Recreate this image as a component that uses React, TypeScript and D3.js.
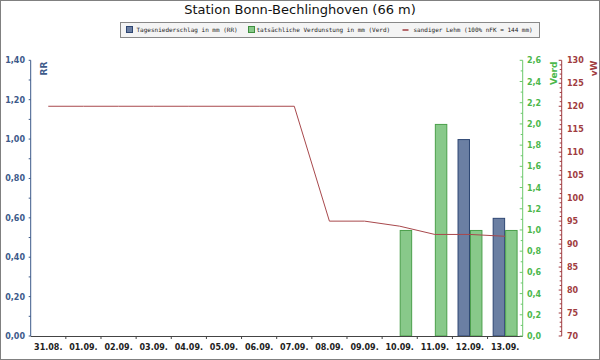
import React from "react";
import * as d3 from "d3";

const days = ["31.08.", "01.09.", "02.09.", "03.09.", "04.09.", "05.09.", "06.09.", "07.09.", "08.09.", "09.09.", "10.09.", "11.09.", "12.09.", "13.09."];
const rr = [0, 0, 0, 0, 0, 0, 0, 0, 0, 0, 0, 0, 1.0, 0.6];
const verd = [0, 0, 0, 0, 0, 0, 0, 0, 0, 0, 1.0, 2.0, 1.0, 1.0];
const vw = [120, 120, 120, 120, 120, 120, 120, 120, 95.0, 95.0, 93.9, 92.1, 92.1, 91.7];
const rrTicks = [0, 0.2, 0.4, 0.6, 0.8, 1.0, 1.2, 1.4];
const verdTicks = [0, 0.2, 0.4, 0.6, 0.8, 1.0, 1.2, 1.4, 1.6, 1.8, 2.0, 2.2, 2.4, 2.6];
const vwTicks = [70, 75, 80, 85, 90, 95, 100, 105, 110, 115, 120, 125, 130];

const W = 600, H = 360;
const left = 30.7, right = 522.7, top = 60.3, bottom = 336;
const axV = 522.7, axW = 561.7;

const cBlue = "#3d5a8a", cGreen = "#4cb84c", cRed = "#a03c40";
const fmt = (v: number, d: number) => v.toFixed(d).replace(".", ",");

export default function App() {
  React.useEffect(() => { document.body.style.margin = "0"; }, []);
  const x = d3.scaleBand<string>().domain(days).range([left, right]).padding(0);
  const sub = d3.scaleBand<string>().domain(["rr", "verd"]).range([0, x.bandwidth()]).paddingInner(0).paddingOuter(0.41);
  const yR = d3.scaleLinear().domain([0, 1.4]).range([bottom, top]);
  const yV = d3.scaleLinear().domain([0, 2.6]).range([bottom, top]);
  const yW = d3.scaleLinear().domain([70, 130]).range([bottom, top]);
  const line = d3.line<number>().x((_, i) => (x(days[i]) as number) + x.bandwidth() / 2).y(d => yW(d));
  const rrMinor = d3.range(0, 1.4001, 0.1);
  const vMinor = d3.range(0, 2.6001, 0.1);
  const wMinor = d3.range(70, 130.001, 1);
  const lbl = { fontFamily: "DejaVu Sans", fontSize: 8, fontWeight: "bold" } as const;
  const leg = { fontFamily: "DejaVu Sans Mono", fontSize: 6, fill: "#222" } as const;
  return (
    <svg width={W} height={H} style={{ display: "block" }}>
      <rect x={0.5} y={0.5} width={W - 1} height={H - 1} fill="#fff" stroke="#808080" />
      <text x={300} y={13.5} textAnchor="middle" fontFamily="DejaVu Sans" fontSize={13} fill="#111">Station Bonn-Bechlinghoven (66 m)</text>
      {/* legend */}
      <rect x={120.5} y={22.5} width={419} height={15} fill="#f4f4f4" stroke="#888" />
      <rect x={126.5} y={26.5} width={6} height={6} fill="#6b7fa3" stroke="#2e4673" />
      <text x={136.5} y={32} {...leg}>Tagesniederschlag in mm (RR)</text>
      <rect x={248.5} y={26.5} width={6} height={6} fill="#88c98a" stroke="#3f8f3f" />
      <text x={256.5} y={32} {...leg}>tatsächliche Verdunstung in mm (Verd)</text>
      <line x1={402.5} x2={408.5} y1={30} y2={30} stroke={cRed} strokeWidth={1.5} />
      <text x={413.5} y={32} {...leg}>sandiger Lehm (100% nFK = 144 mm)</text>

      {/* bars */}
      {days.map((d, i) => (
        <g key={d}>
          {rr[i] > 0 && <rect x={(x(d) as number) + (sub("rr") as number) + 0.5} y={yR(rr[i]) + 0.5} width={sub.bandwidth() - 1} height={bottom - yR(rr[i]) - 0.5} fill="#6b7fa3" stroke="#2e4673" />}
          {verd[i] > 0 && <rect x={(x(d) as number) + (sub("verd") as number) + 0.5} y={yV(verd[i]) + 0.5} width={sub.bandwidth() - 1} height={bottom - yV(verd[i]) - 0.5} fill="#88c98a" stroke="#4a9f4a" />}
        </g>
      ))}
      <path d={line(vw) || ""} fill="none" stroke="#a8484c" strokeWidth={1} />

      {/* left axis */}
      <line x1={left} x2={left} y1={top} y2={bottom} stroke={cBlue} />
      {rrMinor.map(v => <line key={"rm" + v} x1={left - 2} x2={left} y1={yR(v)} y2={yR(v)} stroke={cBlue} />)}
      {rrTicks.map(v => (
        <text key={"rt" + v} x={25} y={yR(v) + 3} textAnchor="end" {...lbl} fill={cBlue}>{fmt(v, 2)}</text>
      ))}
      <text transform={`translate(47,61.5) rotate(-90)`} textAnchor="end" fontFamily="DejaVu Sans" fontSize={9} fontWeight="bold" fill={cBlue}>RR</text>

      {/* x axis */}
      <line x1={left} x2={right} y1={bottom + 0.5} y2={bottom + 0.5} stroke="#444" />
      {days.map((d, i) => i > 0 ? <line key={"xt" + d} x1={x(d) as number} x2={x(d) as number} y1={bottom} y2={bottom + 3} stroke="#444" /> : null)}
      {days.map(d => (
        <text key={"xl" + d} x={(x(d) as number) + x.bandwidth() / 2} y={350} textAnchor="middle" {...lbl} fill="#222">{d}</text>
      ))}

      {/* verd axis */}
      <line x1={axV} x2={axV} y1={top} y2={bottom} stroke="#6cc86c" />
      {vMinor.map((v, i) => <line key={"vm" + i} x1={axV - (i % 2 === 0 ? 3 : 2)} x2={axV} y1={yV(v)} y2={yV(v)} stroke="#6cc86c" />)}
      {verdTicks.map(v => (
        <text key={"vt" + v} x={527} y={yV(v) + 3} {...lbl} fill={cGreen}>{fmt(v, 1)}</text>
      ))}
      <text transform={`translate(557,61.5) rotate(-90)`} textAnchor="end" fontFamily="DejaVu Sans" fontSize={9} fontWeight="bold" fill={cGreen}>Verd</text>

      {/* vW axis */}
      <line x1={axW} x2={axW} y1={top} y2={bottom} stroke={cRed} />
      {wMinor.map((v, i) => <line key={"wm" + i} x1={axW - (i % 5 === 0 ? 3 : 2)} x2={axW} y1={yW(v)} y2={yW(v)} stroke={cRed} />)}
      {vwTicks.map(v => (
        <text key={"wt" + v} x={567} y={yW(v) + 3} {...lbl} fill={cRed}>{String(v)}</text>
      ))}
      <text transform={`translate(597,60.5) rotate(-90)`} textAnchor="end" fontFamily="DejaVu Sans" fontSize={9} fontWeight="bold" fill={cRed}>vW</text>
    </svg>
  );
}
